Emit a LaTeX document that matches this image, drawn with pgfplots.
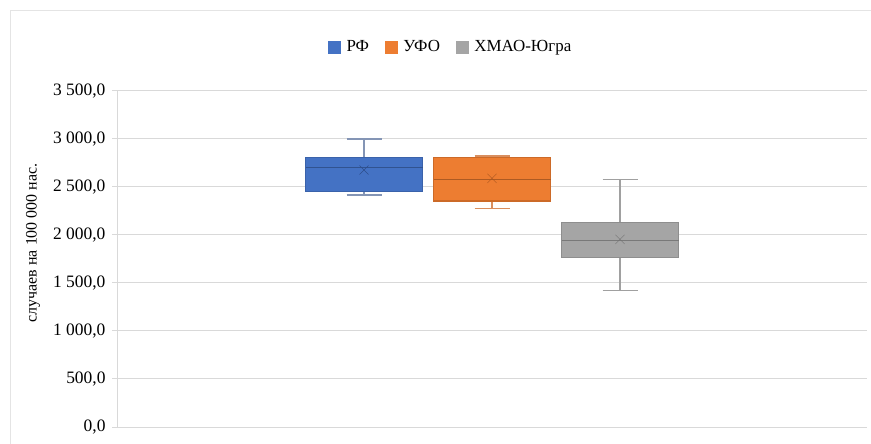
\documentclass[border=0pt]{standalone}
\usepackage{pgfplots}
\pgfplotsset{compat=1.18}
\usepgfplotslibrary{statistics}
\usepackage{fontspec}
\setmainfont{Liberation Serif}
\definecolor{cB}{HTML}{4472C4}
\definecolor{cBd}{HTML}{3A62AA}
\definecolor{cBx}{HTML}{2E4E8C}
\definecolor{cBw}{HTML}{8495B5}
\definecolor{cO}{HTML}{ED7D31}
\definecolor{cOd}{HTML}{CC6A28}
\definecolor{cOx}{HTML}{A8561F}
\definecolor{cOw}{HTML}{D98E5E}
\definecolor{cG}{HTML}{A5A5A5}
\definecolor{cGd}{HTML}{8E8E8E}
\definecolor{cGx}{HTML}{727272}
\definecolor{cGw}{HTML}{A0A0A0}
\definecolor{gridc}{HTML}{D9D9D9}
\begin{document}
\begin{tikzpicture}
\useasboundingbox (0,0) rectangle (871bp,444bp);
\fill[white] (0,0) rectangle (871bp,444bp);
\draw[color=gridc!70, line width=1bp] (10bp,0) -- (10bp,433bp) -- (871bp,433bp);
\begin{axis}[
  at={(117bp,17bp)}, anchor=south west,
  scale only axis, width=750bp, height=336bp,
  xmin=0, xmax=750, ymin=0, ymax=3500,
  ytick distance=500,
  axis x line=none,
  axis y line*=left,
  y axis line style={draw=gridc, line width=1bp},
  ymajorgrids, grid style={draw=gridc, line width=1bp},
  ytick style={draw=gridc, line width=1bp},
  tick align=outside, major tick length=5bp,
  font=\fontsize{17}{20}\selectfont,
  yticklabel style={font=\fontsize{17.5}{20}\selectfont, xshift=-3bp},
  /pgf/number format/.cd, fixed, fixed zerofill, precision=1, use comma, 1000 sep={\ }, assume math mode=true,
  /pgfplots/.cd,
  ylabel={случаев на 100 000 нас.},
  ylabel style={at={(rel axis cs:-0.112,0.548)}, anchor=center, font=\fontsize{16}{19}\selectfont},
  legend columns=3,
  legend style={at={(rel axis cs:0.445,1.131)}, anchor=center, draw=none, fill=none,
    font=\fontsize{17}{20}\selectfont,
    /tikz/every odd column/.append style={column sep=4bp},
    /tikz/every even column/.append style={column sep=14bp}},
  legend image code/.code={\draw[#1] (0bp,-6bp) rectangle (12bp,6bp);},
  clip=false,
  boxplot/draw direction=y,
]
\addlegendimage{fill=cB, draw=cB}
\addlegendentry{РФ}
\addlegendimage{fill=cO, draw=cO}
\addlegendentry{УФО}
\addlegendimage{fill=cG, draw=cG}
\addlegendentry{ХМАО-Югра}

\addplot[color=cBx, boxplot prepared={lower whisker=2417, lower quartile=2451, median=2701,
  upper quartile=2805, upper whisker=3000, average=2677,
  draw position=247, box extend=117, whisker extend=35,
  every box/.style={fill=cB, draw=cBd, line width=1.2bp},
  every whisker/.style={draw=cBw, line width=1.5bp},
  every median/.style={draw=cBd!85!black, line width=1.5bp},
  every average/.style={/tikz/mark=x, /tikz/mark size=6.5bp, /tikz/line width=1bp}}]
  coordinates {};
\addplot[color=cOx, boxplot prepared={lower whisker=2274, lower quartile=2354, median=2580,
  upper quartile=2805, upper whisker=2823, average=2590,
  draw position=375, box extend=117, whisker extend=35,
  every box/.style={fill=cO, draw=cOd, line width=1.2bp},
  every whisker/.style={draw=cOw, line width=1.5bp},
  every median/.style={draw=cOd!85!black, line width=1.5bp},
  every average/.style={/tikz/mark=x, /tikz/mark size=6.5bp, /tikz/line width=1bp}}]
  coordinates {};
\addplot[color=cGx, boxplot prepared={lower whisker=1420, lower quartile=1764, median=1941,
  upper quartile=2128, upper whisker=2580, average=1955,
  draw position=503, box extend=117, whisker extend=35,
  every box/.style={fill=cG, draw=cGd, line width=1.2bp},
  every whisker/.style={draw=cGw, line width=1.5bp},
  every median/.style={draw=cGd!85!black, line width=1.5bp},
  every average/.style={/tikz/mark=x, /tikz/mark size=6.5bp, /tikz/line width=1bp}}]
  coordinates {};
\end{axis}
\end{tikzpicture}
\end{document}
